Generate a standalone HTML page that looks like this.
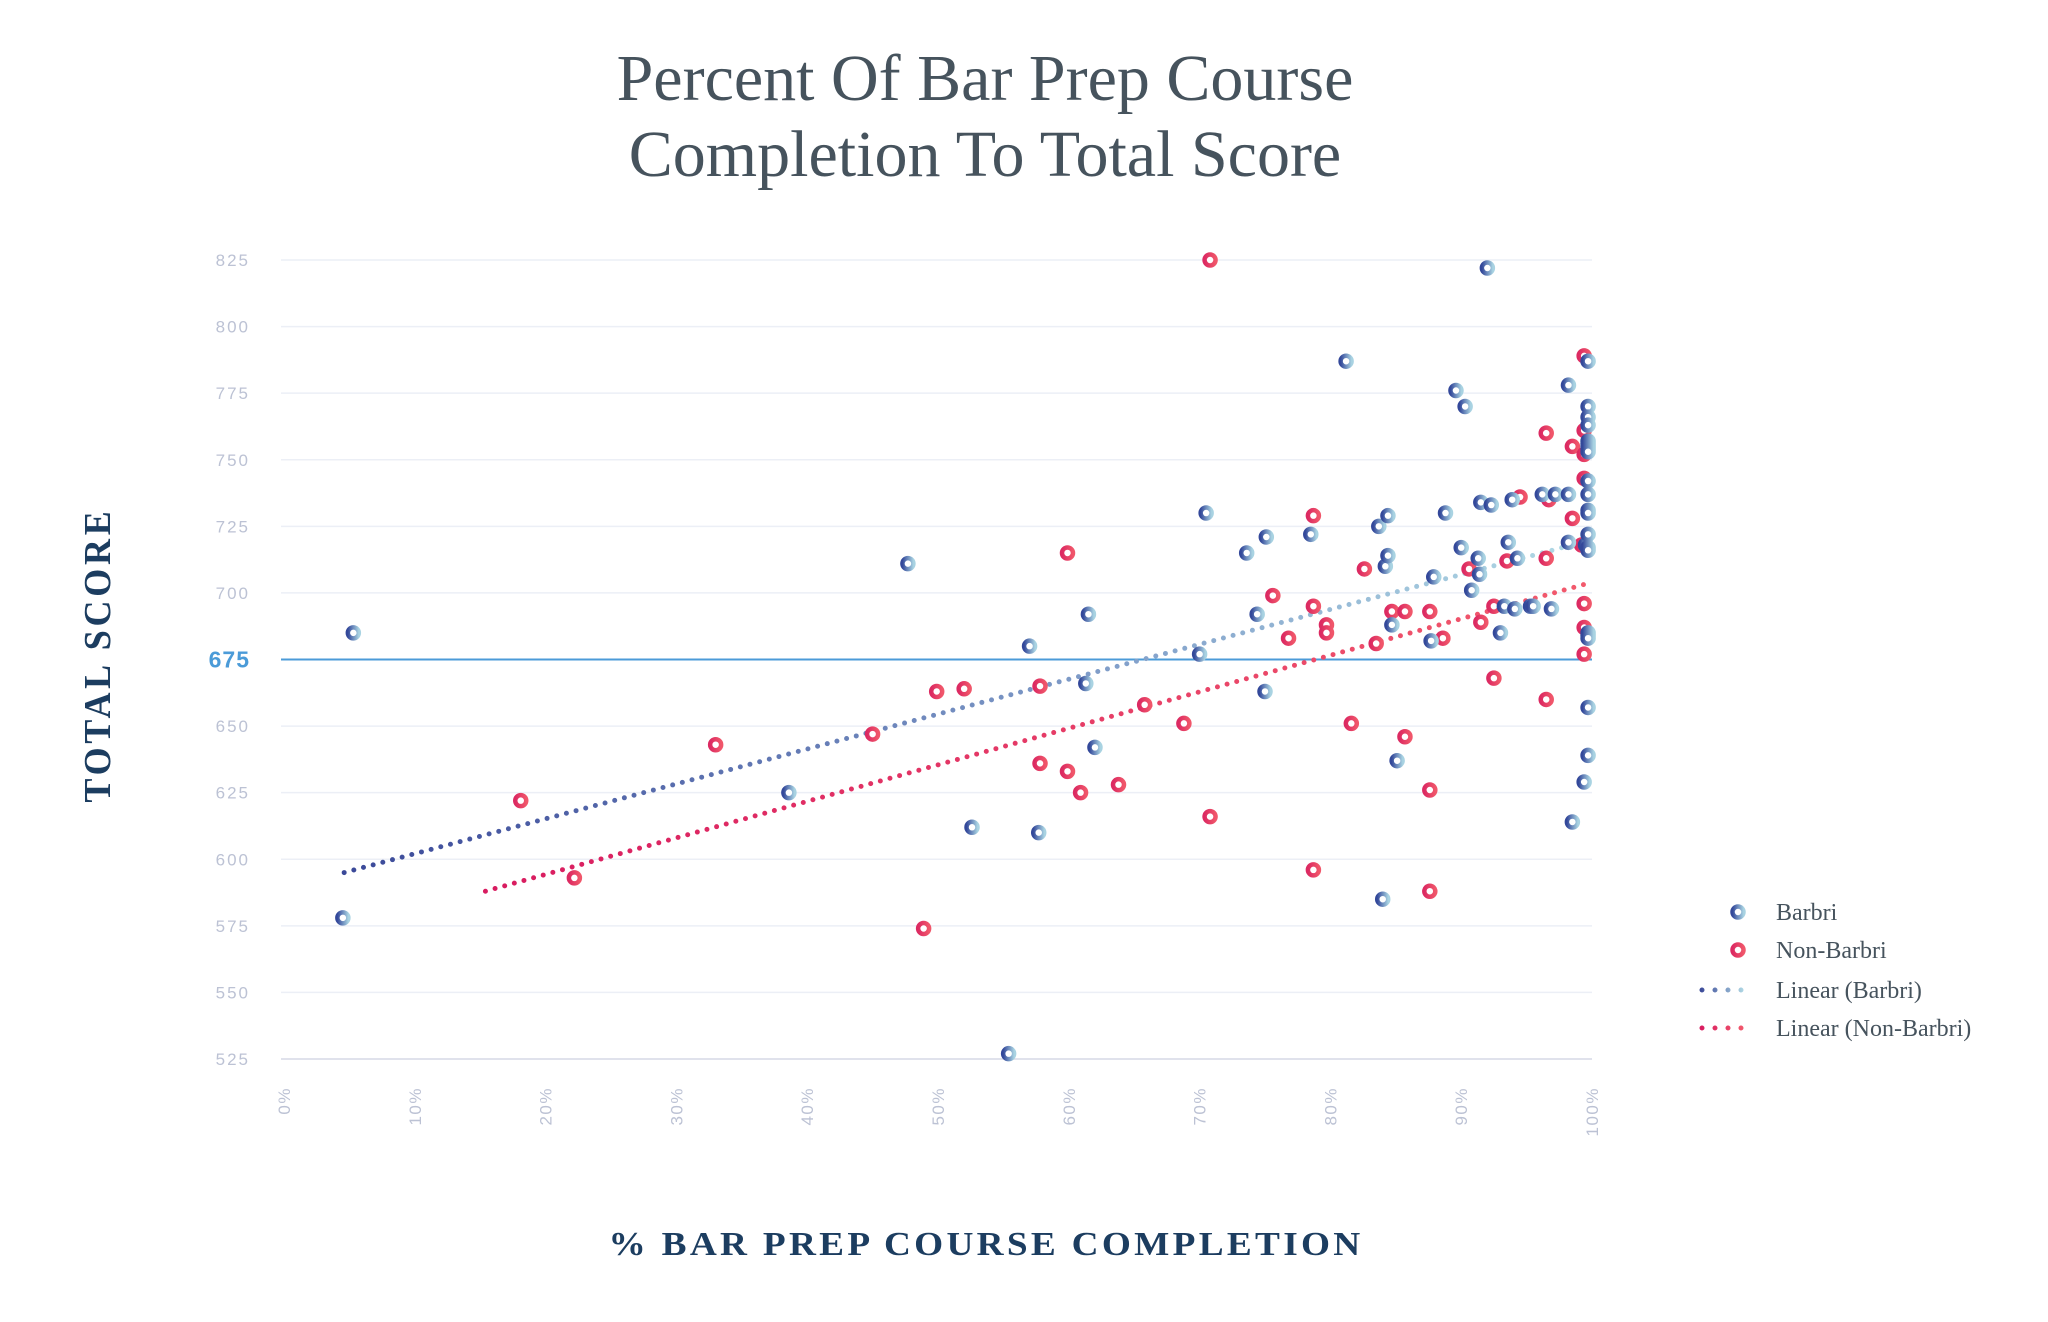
<!DOCTYPE html>
<html><head><meta charset="utf-8"><style>
html,body{margin:0;padding:0;background:#fff;}
svg{display:block;}
</style></head>
<body>
<svg id="chart" width="2048" height="1322" viewBox="0 0 2048 1322" xmlns="http://www.w3.org/2000/svg">
<defs>
<linearGradient id="gB" x1="0" y1="0" x2="1" y2="0"><stop offset="0" stop-color="#33489a"/><stop offset="1" stop-color="#a9d3e2"/></linearGradient>
<linearGradient id="gN" x1="0" y1="0" x2="1" y2="0"><stop offset="0" stop-color="#dc2a62"/><stop offset="1" stop-color="#f0566a"/></linearGradient>
<linearGradient id="gTB" gradientUnits="userSpaceOnUse" x1="340" y1="0" x2="1592" y2="0"><stop offset="0" stop-color="#3a4898"/><stop offset="0.6" stop-color="#7f9cc8"/><stop offset="1" stop-color="#b2dbe6"/></linearGradient>
<linearGradient id="gTN" gradientUnits="userSpaceOnUse" x1="480" y1="0" x2="1592" y2="0"><stop offset="0" stop-color="#d81b60"/><stop offset="1" stop-color="#f25a6c"/></linearGradient>
<linearGradient id="gLB" gradientUnits="userSpaceOnUse" x1="1700" y1="0" x2="1745" y2="0"><stop offset="0" stop-color="#3a4898"/><stop offset="1" stop-color="#b2dbe6"/></linearGradient>
<linearGradient id="gLN" gradientUnits="userSpaceOnUse" x1="1700" y1="0" x2="1745" y2="0"><stop offset="0" stop-color="#d81b60"/><stop offset="1" stop-color="#f25a6c"/></linearGradient>
</defs>
<text x="985" y="100" text-anchor="middle" font-family="Liberation Serif, serif" font-size="66" fill="#46535d">Percent Of Bar Prep Course</text>
<text x="985" y="176" text-anchor="middle" font-family="Liberation Serif, serif" font-size="66" fill="#46535d">Completion To Total Score</text>
<text transform="translate(110,655) rotate(-90)" text-anchor="middle" font-family="Liberation Serif, serif" font-weight="bold" font-size="38" letter-spacing="4" textLength="295" lengthAdjust="spacingAndGlyphs" fill="#1c3d60">TOTAL SCORE</text>
<text x="986" y="1255" text-anchor="middle" font-family="Liberation Serif, serif" font-weight="bold" font-size="34" letter-spacing="3" textLength="755" lengthAdjust="spacingAndGlyphs" fill="#1c3d60">% BAR PREP COURSE COMPLETION</text>
<g id="grid"></g><g id="ticks"></g><g id="trends"></g><g id="pointsN"></g><g id="pointsB"></g>
<g>
<circle cx="1738" cy="912" r="5.5" fill="#fff" stroke="url(#gB)" stroke-width="4.5"/>
<text x="1776" y="920" font-family="Liberation Serif, serif" font-size="24" fill="#46535d">Barbri</text>
<circle cx="1738" cy="950" r="5.5" fill="#fff" stroke="url(#gN)" stroke-width="4.5"/>
<text x="1776" y="958" font-family="Liberation Serif, serif" font-size="24" fill="#46535d">Non-Barbri</text>
<line x1="1702" y1="990" x2="1742" y2="990" stroke="url(#gLB)" stroke-width="5" stroke-linecap="round" stroke-dasharray="0 13"/>
<text x="1776" y="998" font-family="Liberation Serif, serif" font-size="24" fill="#46535d">Linear (Barbri)</text>
<line x1="1702" y1="1028" x2="1742" y2="1028" stroke="url(#gLN)" stroke-width="5" stroke-linecap="round" stroke-dasharray="0 13"/>
<text x="1776" y="1036" font-family="Liberation Serif, serif" font-size="24" fill="#46535d">Linear (Non-Barbri)</text>
</g>
</svg>
<script>
const yTicks = [525,550,575,600,625,650,675,700,725,750,775,800,825];
const xTicks = [0,10,20,30,40,50,60,70,80,90,100];
const xTickLabels = ["0%","10%","20%","30%","40%","50%","60%","70%","80%","90%","100%"];
const thresholdScore = 675;
const barbriX = [5.3,4.5,38.6,47.7,52.6,55.4,57,57.7,61.3,61.5,62,70,70.5,73.6,74.4,75,75.1,78.5,81.2,83.7,84,84.2,84.4,84.4,84.7,85.1,87.7,87.9,88.8,89.6,90.3,90,90.8,91.3,91.4,91.5,92,92.3,93,93.3,93.6,93.9,94.1,94.3,95.3,95.5,96.2,96.9,97.2,98.2,98.2,98.2,98.5,99.4,99.5,99.7,99.7,99.7,99.7,99.7,99.7,99.7,99.7,99.7,99.7,99.7,99.7,99.7,99.7,99.7,99.7,99.7,99.7,99.7,99.7,99.7];
const barbriY = [685,578,625,711,612,527,680,610,666,692,642,677,730,715,692,663,721,722,787,725,585,710,729,714,688,637,682,706,730,776,770,717,701,713,707,734,822,733,685,695,719,735,694,713,695,695,737,694,737,737,778,719,614,629,718,787,770,766,763,757,756,755,754,753,742,737,731,730,722,717,716,685,684,683,657,639];
const nonX = [18.1,22.2,33,45,48.9,49.9,52,57.8,57.8,59.9,59.9,60.9,63.8,65.8,68.8,70.8,70.8,75.6,76.8,78.7,78.7,78.7,79.7,79.7,81.6,82.6,83.5,84.7,85.7,85.7,87.6,87.6,87.6,88.6,90.6,91.5,92.5,92.5,93.5,94.5,96.5,96.5,96.5,96.7,98.5,98.5,99.4,99.4,99.4,99.4,99.4,99.4,99.4,99.2];
const nonY = [622,593,643,647,574,663,664,636,665,633,715,625,628,658,651,825,616,699,683,729,596,695,688,685,651,709,681,693,693,646,693,626,588,683,709,689,695,668,712,736,760,713,660,735,755,728,789,761,752,743,696,687,677,718];
const trendBarbriX = [4.6,100];
const trendBarbriY = [595,720];
const trendNonX = [15.4,100];
const trendNonY = [588,704];

const NS = "http://www.w3.org/2000/svg";
const X0 = 284, X1 = 1592, Y0 = 1059, Y1 = 260, VMIN = 525, VMAX = 825;
function sx(v){ return X0 + (v/100)*(X1-X0); }
function sy(v){ return Y0 - (v-VMIN)/(VMAX-VMIN)*(Y0-Y1); }
function mk(tag, attrs, parent){ const e = document.createElementNS(NS, tag); for (const k in attrs) e.setAttribute(k, attrs[k]); parent.appendChild(e); return e; }

const grid = document.getElementById('grid');
const ticks = document.getElementById('ticks');
yTicks.forEach(function(v){
  const isT = v === thresholdScore;
  const isBase = v === VMIN;
  const ln = mk('line', {x1: 281, x2: X1, y1: sy(v), y2: sy(v), stroke: isT ? '#4b9bd8' : (isBase ? '#d5d8e5' : '#eceff6'), 'stroke-width': isT ? 2 : 1.5}, grid);
  
  
  const t = mk('text', {x: 250, y: sy(v) + (isT ? 8 : 6), 'text-anchor': 'end', 'font-family': 'Liberation Sans, sans-serif', 'font-size': isT ? 23 : 17, 'font-weight': isT ? 'bold' : 'normal', 'letter-spacing': isT ? 1 : 2, fill: isT ? '#4b9bd8' : '#bcc2d4'}, ticks);
  t.textContent = v;
  
  
});
xTicks.forEach(function(v, i){
  const x = sx(v) + 6;
  const t = mk('text', {x: 0, y: 0, transform: 'translate(' + x + ',1087) rotate(-90)', 'text-anchor': 'end', 'font-family': 'Liberation Sans, sans-serif', 'font-size': 17, 'letter-spacing': 1.5, fill: '#bcc2d4'}, ticks);
  t.textContent = xTickLabels[i];
  
  
});

const trends = document.getElementById('trends');
const tb = mk('line', {x1: sx(trendBarbriX[0]), y1: sy(trendBarbriY[0]), x2: sx(trendBarbriX[1]), y2: sy(trendBarbriY[1]), stroke: 'url(#gTB)', 'stroke-width': 5, 'stroke-linecap': 'round', 'stroke-dasharray': '0 10'}, trends);


const tn = mk('line', {x1: sx(trendNonX[0]), y1: sy(trendNonY[0]), x2: sx(trendNonX[1]), y2: sy(trendNonY[1]), stroke: 'url(#gTN)', 'stroke-width': 5, 'stroke-linecap': 'round', 'stroke-dasharray': '0 10'}, trends);



const pN = document.getElementById('pointsN');
nonX.forEach(function(v, i){
  const c = mk('circle', {cx: sx(v), cy: sy(nonY[i]), r: 5.5, fill: '#fff', stroke: 'url(#gN)', 'stroke-width': 4.5}, pN);
  
  
});
const pB = document.getElementById('pointsB');
barbriX.forEach(function(v, i){
  const c = mk('circle', {cx: sx(v), cy: sy(barbriY[i]), r: 5.5, fill: '#fff', stroke: 'url(#gB)', 'stroke-width': 4.5}, pB);
  
  
});
</script>
</body></html>
